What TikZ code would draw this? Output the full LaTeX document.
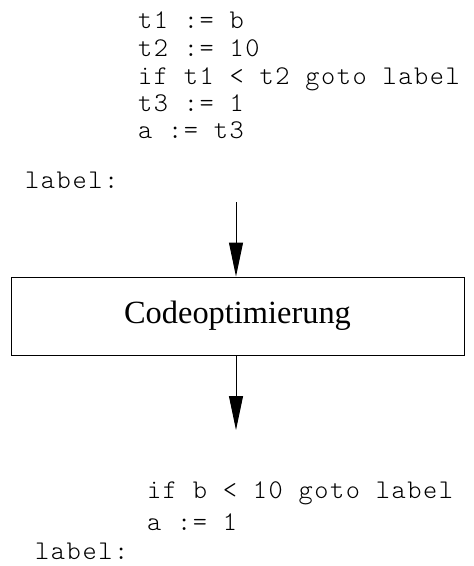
\documentclass[tikz,border=0pt]{standalone}
\usepackage{fontspec}
\setmainfont{Liberation Serif}
\newfontfamily\cmono[LetterSpace=5.9]{lmmonolt10-regular.otf}
\usetikzlibrary{arrows.meta}
\tikzset{
  code/.style={anchor=base west, inner sep=0pt, font=\cmono\fontsize{27}{27}\selectfont},
  optbox/.style={draw, line width=1pt, minimum width=453pt, minimum height=78pt, inner sep=0pt,
    font=\fontsize{32.4}{36}\selectfont},
  arr/.style={line width=1pt, -{Triangle[length=34pt,width=14pt]}}
}
\begin{document}
\begin{tikzpicture}[x=1pt,y=-1pt]
\useasboundingbox (0,0) rectangle (474,566);
% top code
\node[code] (t1) at (138,28) {t1 := b};
\node[code] (t2) at (138,56) {t2 := 10};
\node[code] (t3) at (138,84) {if t1 < t2 goto label};
\node[code] (t4) at (138,111) {t3 := 1};
\node[code] (t5) at (138,138) {a := t3};
\node[code] (t6) at (25,188) {label:};
% box
\node[optbox] (opt) at (237.5,316) {Codeoptimierung};
\coordinate (a0) at (236,202);
\coordinate (a1) at (236,430);
\draw[arr] (a0) -- (a0 |- opt.north);
\draw[arr] (a1 |- opt.south) -- (a1);
% bottom code
\node[code] (b1) at (147,498) {if b < 10 goto label};
\node[code] (b2) at (147,530) {a := 1};
\node[code] (b3) at (35,559) {label:};
\end{tikzpicture}
\end{document}
